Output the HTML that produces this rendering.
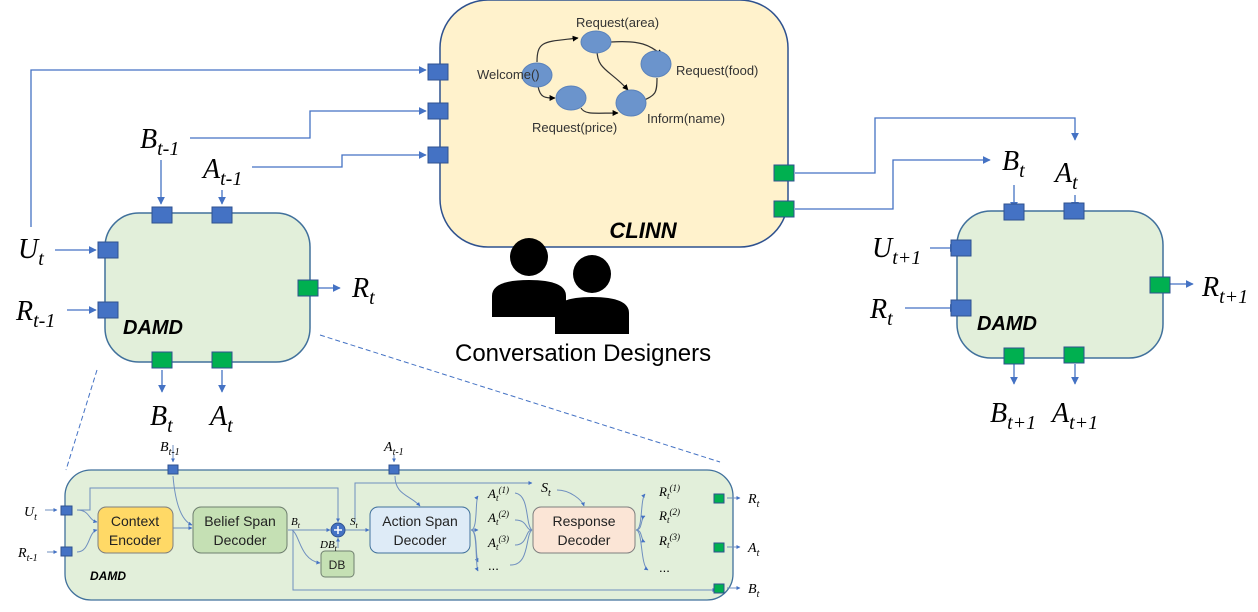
<!DOCTYPE html>
<html><head><meta charset="utf-8"><style>
body{margin:0;background:#fff;width:1258px;height:607px;overflow:hidden}
svg text{font-family:"Liberation Serif",serif;font-style:italic}
svg text.sn{font-family:"Liberation Sans",sans-serif;font-style:normal}
svg text.sb{font-family:"Liberation Sans",sans-serif;font-style:italic;font-weight:bold}
</style></head><body>
<svg width="1258" height="607" viewBox="0 0 1258 607" xmlns="http://www.w3.org/2000/svg">
<defs>
<marker id="a" viewBox="0 0 10 10" refX="9" refY="5" markerWidth="6" markerHeight="6" orient="auto"><path d="M0,0L10,5L0,10z" fill="#4472c4"/></marker>
<marker id="b" viewBox="0 0 10 10" refX="9" refY="5" markerWidth="4" markerHeight="4" orient="auto"><path d="M0,0L10,5L0,10z" fill="#4472c4"/></marker>
<marker id="k" viewBox="0 0 10 10" refX="9" refY="5" markerWidth="5" markerHeight="5" orient="auto"><path d="M0,0L10,5L0,10z" fill="#000"/></marker>
</defs>
<g fill="none" stroke="#4472c4" stroke-width="1.3">
<path d="M31,227V70H426" marker-end="url(#a)"/>
<path d="M190,138H310V111H426" marker-end="url(#a)"/>
<path d="M252,167H342V155H426" marker-end="url(#a)"/>
<path d="M795,173H875V118H1075V140" marker-end="url(#a)"/>
<path d="M795,209H893V160H990" marker-end="url(#a)"/>
<path d="M161,160V204" marker-end="url(#a)"/><path d="M222,190V204" marker-end="url(#a)"/>
<path d="M55,250H96" marker-end="url(#a)"/><path d="M67,310H96" marker-end="url(#a)"/>
<path d="M318,288H340" marker-end="url(#a)"/>
<path d="M162,370V392" marker-end="url(#a)"/><path d="M222,370V392" marker-end="url(#a)"/>
<path d="M1014,185V209" marker-end="url(#a)"/><path d="M1075,195V209" marker-end="url(#a)"/>
<path d="M930,248H957" marker-end="url(#a)"/><path d="M905,308H957" marker-end="url(#a)"/>
<path d="M1170,284H1193" marker-end="url(#a)"/>
<path d="M1014,364V384" marker-end="url(#a)"/><path d="M1075,364V384" marker-end="url(#a)"/>
</g>
<g stroke="#4472c4" stroke-width="1" stroke-dasharray="5,3">
<path d="M97,370L66,470"/><path d="M320,335L720,462"/>
</g>
<rect x="440" y="0" width="348" height="247" rx="48" fill="#fff2cc" stroke="#2f528f" stroke-width="1.5"/>
<text x="643" y="238" class="sb" font-size="22" text-anchor="middle">CLINN</text>
<g fill="none" stroke="#333" stroke-width="1.2">
<path d="M537,62C537,40 545,42 578,38" marker-end="url(#k)"/>
<path d="M611,42C640,40 650,45 662,55" marker-end="url(#k)"/>
<path d="M597,50C597,70 610,70 628,90" marker-end="url(#k)"/>
<path d="M657,78C657,95 655,95 640,102" marker-end="url(#k)"/>
<path d="M538,86C540,98 545,98 555,98" marker-end="url(#k)"/>
<path d="M581,108C585,115 595,113 618,113" marker-end="url(#k)"/>
</g>
<g fill="#6b94cc" stroke="#5a82bb"><ellipse cx="537" cy="75" rx="15" ry="12"/><ellipse cx="596" cy="42" rx="15" ry="11"/><ellipse cx="656" cy="64" rx="15" ry="13"/><ellipse cx="571" cy="98" rx="15" ry="12"/><ellipse cx="631" cy="103" rx="15" ry="13"/></g>
<g font-size="13" fill="#333">
<text class="sn" x="477" y="79">Welcome()</text><text class="sn" x="576" y="27">Request(area)</text><text class="sn" x="676" y="75">Request(food)</text><text class="sn" x="532" y="132">Request(price)</text><text class="sn" x="647" y="123">Inform(name)</text></g>
<g fill="#4472c4" stroke="#2f528f"><rect x="428" y="64" width="20" height="16"/><rect x="428" y="103" width="20" height="16"/><rect x="428" y="147" width="20" height="16"/></g>
<g fill="#00b050" stroke="#2f528f"><rect x="774" y="165" width="20" height="16"/><rect x="774" y="201" width="20" height="16"/></g>
<g fill="#000"><circle cx="529" cy="257" r="19"/><path d="M492,317V296Q492,280 529,280Q566,280 566,296V317z"/><circle cx="592" cy="274" r="19"/><path d="M555,334V313Q555,297 592,297Q629,297 629,313V334z"/></g>
<text x="455" y="361" class="sn" font-size="24">Conversation Designers</text>
<rect x="105" y="213" width="205" height="149" rx="34" fill="#e2efda" stroke="#41719c" stroke-width="1.5"/>
<text x="123" y="334" class="sb" font-size="20">DAMD</text>
<g fill="#4472c4" stroke="#2f528f"><rect x="152" y="207" width="20" height="16"/><rect x="212" y="207" width="20" height="16"/><rect x="98" y="242" width="20" height="16"/><rect x="98" y="302" width="20" height="16"/></g>
<g fill="#00b050" stroke="#2f528f"><rect x="298" y="280" width="20" height="16"/><rect x="152" y="352" width="20" height="16"/><rect x="212" y="352" width="20" height="16"/></g>
<g font-size="28">
<text x="140" y="148">B<tspan font-size="20" dy="7">t-1</tspan></text>
<text x="203" y="178">A<tspan font-size="20" dy="7">t-1</tspan></text>
<text x="18" y="258">U<tspan font-size="20" dy="7">t</tspan></text>
<text x="16" y="320">R<tspan font-size="20" dy="7">t-1</tspan></text>
<text x="352" y="297">R<tspan font-size="20" dy="7">t</tspan></text>
<text x="150" y="425">B<tspan font-size="20" dy="7">t</tspan></text>
<text x="210" y="425">A<tspan font-size="20" dy="7">t</tspan></text>
</g>
<rect x="957" y="211" width="206" height="147" rx="34" fill="#e2efda" stroke="#41719c" stroke-width="1.5"/>
<text x="977" y="330" class="sb" font-size="20">DAMD</text>
<g fill="#4472c4" stroke="#2f528f"><rect x="1004" y="204" width="20" height="16"/><rect x="1064" y="203" width="20" height="16"/><rect x="951" y="240" width="20" height="16"/><rect x="951" y="300" width="20" height="16"/></g>
<g fill="#00b050" stroke="#2f528f"><rect x="1150" y="277" width="20" height="16"/><rect x="1004" y="348" width="20" height="16"/><rect x="1064" y="347" width="20" height="16"/></g>
<g font-size="28">
<text x="1002" y="170">B<tspan font-size="20" dy="7">t</tspan></text>
<text x="1055" y="182">A<tspan font-size="20" dy="7">t</tspan></text>
<text x="872" y="257">U<tspan font-size="20" dy="7">t+1</tspan></text>
<text x="870" y="318">R<tspan font-size="20" dy="7">t</tspan></text>
<text x="1202" y="296">R<tspan font-size="20" dy="7">t+1</tspan></text>
<text x="990" y="422">B<tspan font-size="20" dy="7">t+1</tspan></text>
<text x="1052" y="422">A<tspan font-size="20" dy="7">t+1</tspan></text>
</g>
<rect x="65" y="470" width="668" height="130" rx="26" fill="#e2efda" stroke="#41719c" stroke-width="1.3"/>
<g fill="none" stroke="#6f8fbf" stroke-width="1">
<path d="M77,510H90V488H338V522" marker-end="url(#b)"/>
<path d="M77,510C90,510 88,520 97,522" marker-end="url(#b)"/>
<path d="M77,552C90,552 88,532 97,530" marker-end="url(#b)"/>
<path d="M173,476C175,500 180,520 192,525" marker-end="url(#b)"/>
<path d="M173,528H192" marker-end="url(#b)"/>
<path d="M288,530H330" marker-end="url(#b)"/>
<path d="M292,530C300,535 300,560 320,563" marker-end="url(#b)"/>
<path d="M293,530V590H716" marker-end="url(#b)"/>
<path d="M338,548V538" marker-end="url(#b)"/>
<path d="M345,530H369" marker-end="url(#b)"/>
<path d="M355,522V483H532" marker-end="url(#b)"/>
<path d="M395,476C395,495 410,495 420,506" marker-end="url(#b)"/>
<path d="M557,490C570,490 582,500 584,506" marker-end="url(#b)"/>
<path d="M471,530C478,530 475,500 478,496" marker-end="url(#b)"/>
<path d="M471,530H478" marker-end="url(#b)"/>
<path d="M471,530C478,530 475,555 478,562" marker-end="url(#b)"/>
<path d="M471,530C478,530 475,565 478,571" marker-end="url(#b)"/>
<path d="M515,493C530,495 525,525 532,530M515,520C528,520 525,530 532,530M515,545C528,545 525,530 532,530M510,565C530,566 525,535 532,530"/>
<path d="M636,530C643,530 640,500 645,494" marker-end="url(#b)"/>
<path d="M636,530C643,530 640,518 645,516" marker-end="url(#b)"/>
<path d="M636,530C643,530 640,540 645,542" marker-end="url(#b)"/>
<path d="M636,530C643,530 640,565 648,570" marker-end="url(#b)"/>
<path d="M173,445V462" marker-end="url(#b)"/><path d="M394,455V462" marker-end="url(#b)"/>
<path d="M45,510H57" marker-end="url(#b)"/><path d="M47,552H57" marker-end="url(#b)"/>
<path d="M727,498H740" marker-end="url(#b)"/><path d="M727,547H740" marker-end="url(#b)"/><path d="M727,588H740" marker-end="url(#b)"/>
</g>
<rect x="98" y="507" width="75" height="46" rx="8" fill="#ffd966" stroke="#7f7f7f"/>
<rect x="193" y="507" width="94" height="46" rx="8" fill="#c5e0b4" stroke="#6f7f6f"/>
<rect x="321" y="551" width="33" height="26" rx="4" fill="#c5e0b4" stroke="#6f7f6f"/>
<rect x="370" y="507" width="100" height="46" rx="8" fill="#deebf7" stroke="#41719c"/>
<rect x="533" y="507" width="102" height="46" rx="8" fill="#fbe5d6" stroke="#7f7f7f"/>
<circle cx="338" cy="530" r="7" fill="#4472c4" stroke="#2f528f"/>
<path d="M334,530H342M338,526V534" stroke="#fff" stroke-width="1.5"/>
<g font-size="14" fill="#222" text-anchor="middle">
<text class="sn" x="135" y="526">Context</text><text class="sn" x="135" y="545">Encoder</text>
<text class="sn" x="240" y="526">Belief Span</text><text class="sn" x="240" y="545">Decoder</text>
<text class="sn" x="337" y="569" font-size="12">DB</text>
<text class="sn" x="420" y="526">Action Span</text><text class="sn" x="420" y="545">Decoder</text>
<text class="sn" x="584" y="526">Response</text><text class="sn" x="584" y="545">Decoder</text>
</g>
<text x="90" y="580" class="sb" font-size="12">DAMD</text>
<g fill="#4472c4" stroke="#2f528f"><rect x="168" y="465" width="10" height="9"/><rect x="389" y="465" width="10" height="9"/><rect x="61" y="506" width="11" height="9"/><rect x="61" y="547" width="11" height="9"/></g>
<g fill="#00b050" stroke="#2f528f"><rect x="714" y="494" width="10" height="9"/><rect x="714" y="543" width="10" height="9"/><rect x="714" y="584" width="10" height="9"/></g>
<g font-size="14">
<text x="160" y="451">B<tspan font-size="10" dy="4">t-1</tspan></text>
<text x="384" y="451">A<tspan font-size="10" dy="4">t-1</tspan></text>
<text x="24" y="516">U<tspan font-size="10" dy="4">t</tspan></text>
<text x="18" y="557">R<tspan font-size="10" dy="4">t-1</tspan></text>
<text x="291" y="525" font-size="11">B<tspan font-size="8" dy="3">t</tspan></text>
<text x="350" y="525" font-size="11">S<tspan font-size="8" dy="3">t</tspan></text>
<text x="320" y="548" font-size="11">DB<tspan font-size="8" dy="3">t</tspan></text>
<text x="541" y="492">S<tspan font-size="10" dy="4">t</tspan></text>
<text x="488" y="498" font-size="13">A<tspan font-size="9" dy="3">t</tspan><tspan font-size="9" dy="-8">(1)</tspan></text>
<text x="488" y="522" font-size="13">A<tspan font-size="9" dy="3">t</tspan><tspan font-size="9" dy="-8">(2)</tspan></text>
<text x="488" y="547" font-size="13">A<tspan font-size="9" dy="3">t</tspan><tspan font-size="9" dy="-8">(3)</tspan></text>
<text x="488" y="570" font-size="13" class="sn">...</text>
<text x="659" y="496" font-size="13">R<tspan font-size="9" dy="3">t</tspan><tspan font-size="9" dy="-8">(1)</tspan></text>
<text x="659" y="520" font-size="13">R<tspan font-size="9" dy="3">t</tspan><tspan font-size="9" dy="-8">(2)</tspan></text>
<text x="659" y="545" font-size="13">R<tspan font-size="9" dy="3">t</tspan><tspan font-size="9" dy="-8">(3)</tspan></text>
<text x="659" y="572" font-size="13" class="sn">...</text>
<text x="748" y="503">R<tspan font-size="10" dy="4">t</tspan></text>
<text x="748" y="552">A<tspan font-size="10" dy="4">t</tspan></text>
<text x="748" y="593">B<tspan font-size="10" dy="4">t</tspan></text>
</g>
</svg>
</body></html>
